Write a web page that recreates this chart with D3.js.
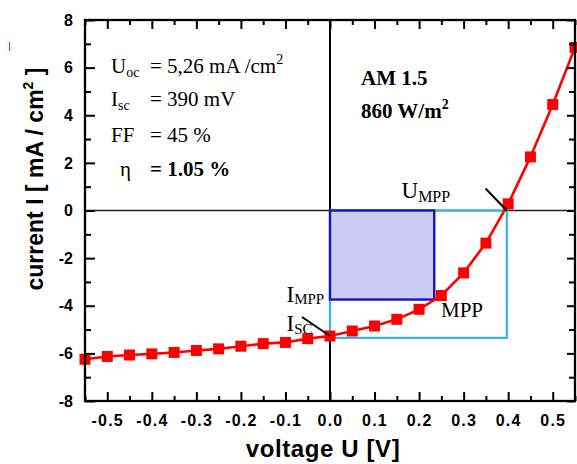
<!DOCTYPE html>
<html>
<head>
<meta charset="utf-8">
<script src="https://cdn.jsdelivr.net/npm/d3@7"></script>
<style>
  html, body { margin: 0; padding: 0; background: #fff; }
  svg { display: block; }
  .tick text { font-family: "Liberation Sans", Arial, sans-serif; font-weight: bold; font-size: 16px; fill: #000; }
  .serif { font-family: "Liberation Serif", "Times New Roman", serif; fill: #000; }
</style>
</head>
<body>
<svg id="chart" width="577" height="464"></svg>
<script>
// ---- data ----
const voltage = [-0.55, -0.5, -0.45, -0.4, -0.35, -0.3, -0.25, -0.2, -0.15, -0.1, -0.05,
                 0.0, 0.05, 0.1, 0.15, 0.2, 0.25, 0.3, 0.35, 0.4, 0.45, 0.5, 0.55];
const current = [-6.25, -6.13, -6.07, -6.02, -5.96, -5.88, -5.81, -5.70, -5.59, -5.54, -5.38,
                 -5.27, -5.06, -4.85, -4.57, -4.15, -3.57, -2.62, -1.37, 0.28, 2.25, 4.45, 6.85];
const xTicks = [-0.5, -0.4, -0.3, -0.2, -0.1, 0.0, 0.1, 0.2, 0.3, 0.4, 0.5];
const xMinor = [-0.55, -0.45, -0.35, -0.25, -0.15, -0.05, 0.05, 0.15, 0.25, 0.35, 0.45, 0.55];
const yTicks = [-8, -6, -4, -2, 0, 2, 4, 6, 8];
const yMinor = [-7, -5, -3, -1, 1, 3, 5, 7];
const xDomain = [-0.55, 0.55];
const yDomain = [-8, 8];
const mpp = { u: 0.234, i: -3.74 };       // maximum power point
const ocsc = { u: 0.397, i: -5.35 };      // open-circuit voltage / short-circuit current

// ---- layout ----
const svg = d3.select("#chart");
const L = 85, R = 575, T = 20, B = 401;
const x = d3.scaleLinear().domain(xDomain).range([L, R]);
const y = d3.scaleLinear().domain(yDomain).range([B, T]);

// stray red mark (top-left)
svg.append("line").attr("x1", 9.5).attr("x2", 9.5).attr("y1", 42).attr("y2", 51)
  .attr("stroke", "#ea3a46").attr("stroke-width", 1.2);

// zero lines
svg.append("line").attr("x1", L).attr("x2", R).attr("y1", y(0)).attr("y2", y(0))
  .attr("stroke", "#222").attr("stroke-width", 1.6);
svg.append("line").attr("x1", x(0)).attr("x2", x(0)).attr("y1", T).attr("y2", B)
  .attr("stroke", "#000").attr("stroke-width", 2);

// cyan rectangle (Isc x Uoc)
svg.append("rect")
  .attr("x", x(0)).attr("y", y(0))
  .attr("width", x(ocsc.u) - x(0)).attr("height", y(ocsc.i) - y(0))
  .attr("fill", "none").attr("stroke", "#35b6e6").attr("stroke-width", 2.2);

// blue rectangle (MPP)
svg.append("rect")
  .attr("x", x(0)).attr("y", y(0))
  .attr("width", x(mpp.u) - x(0)).attr("height", y(mpp.i) - y(0))
  .attr("fill", "#cbcbf3").attr("stroke", "#1515c8").attr("stroke-width", 2.4);

// data line + markers
const pts = voltage.map((v, i) => [v, current[i]]);
svg.append("path").datum(pts)
  .attr("d", d3.line().x(d => x(d[0])).y(d => y(d[1])))
  .attr("fill", "none").attr("stroke", "#ff0000").attr("stroke-width", 2.6);
const ms = 11;
svg.selectAll("rect.pt").data(pts).join("rect").attr("class", "pt")
  .attr("x", d => x(d[0]) - ms / 2).attr("y", d => y(d[1]) - ms / 2)
  .attr("width", ms).attr("height", ms).attr("fill", "#ff0000");

// ---- axes (inward ticks) ----
const fmtX = d => d.toFixed(1);
const fmtY = d => String(d);
function styleAxis(g) {
  g.select(".domain").remove();
  g.selectAll(".tick line").attr("stroke", "#000").attr("stroke-width", 2);
}
// bottom
svg.append("g").attr("transform", `translate(0,${B})`)
  .call(d3.axisBottom(x).tickValues(xTicks).tickSize(-9).tickPadding(14).tickFormat(fmtX))
  .call(styleAxis)
  .call(g => g.selectAll(".tick text").attr("letter-spacing", "1.2px").attr("y", 14));
svg.append("g").attr("transform", `translate(0,${B})`)
  .call(d3.axisBottom(x).tickValues(xMinor).tickSize(-5).tickFormat(""))
  .call(styleAxis);
// top
svg.append("g").attr("transform", `translate(0,${T})`)
  .call(d3.axisTop(x).tickValues(xTicks).tickSize(-9).tickFormat(""))
  .call(styleAxis);
svg.append("g").attr("transform", `translate(0,${T})`)
  .call(d3.axisTop(x).tickValues(xMinor).tickSize(-5).tickFormat(""))
  .call(styleAxis);
// left
svg.append("g").attr("transform", `translate(${L},0)`)
  .call(d3.axisLeft(y).tickValues(yTicks).tickSize(-10).tickPadding(12).tickFormat(fmtY))
  .call(styleAxis);
svg.append("g").attr("transform", `translate(${L},0)`)
  .call(d3.axisLeft(y).tickValues(yMinor).tickSize(-6).tickFormat(""))
  .call(styleAxis);
// right
svg.append("g").attr("transform", `translate(${R},0)`)
  .call(d3.axisRight(y).tickValues(yTicks).tickSize(-8).tickFormat(""))
  .call(styleAxis);
svg.append("g").attr("transform", `translate(${R},0)`)
  .call(d3.axisRight(y).tickValues(yMinor).tickSize(-6).tickFormat(""))
  .call(styleAxis);

// frame
svg.append("rect").attr("x", L).attr("y", T).attr("width", R - L).attr("height", B - T)
  .attr("fill", "none").attr("stroke", "#000").attr("stroke-width", 2.3);

// ---- axis titles ----
svg.append("text")
  .attr("x", 323).attr("y", 457).attr("text-anchor", "middle")
  .attr("font-family", "Liberation Sans, Arial, sans-serif").attr("font-weight", "bold")
  .attr("font-size", 24).attr("letter-spacing", "0.6px").text("voltage U [V]");

const yt = svg.append("text")
  .attr("transform", "translate(42.5,179) rotate(-90)")
  .attr("text-anchor", "middle")
  .attr("font-family", "Liberation Sans, Arial, sans-serif").attr("font-weight", "bold")
  .attr("font-size", 23);
yt.append("tspan").text("current I [ mA / cm");
yt.append("tspan").attr("font-size", 14).attr("dy", -10).text("2");
yt.append("tspan").attr("dy", 10).text(" ]");

// ---- annotation lines ----
svg.append("line").attr("x1", 485.5).attr("y1", 188.5).attr("x2", x(ocsc.u)).attr("y2", y(0))
  .attr("stroke", "#000").attr("stroke-width", 2);
svg.append("line").attr("x1", 302).attr("y1", 317).attr("x2", x(0)).attr("y2", y(current[11]))
  .attr("stroke", "#000").attr("stroke-width", 2);

// ---- text annotations ----
function sub(parent, main, s, px, py, fs, sfs, sdy) {
  const t = parent.append("text").attr("class", "serif").attr("x", px).attr("y", py).attr("font-size", fs);
  t.append("tspan").text(main);
  t.append("tspan").attr("font-size", sfs).attr("dy", sdy).text(s);
  return t;
}
// parameter box
sub(svg, "U", "oc", 111, 73, 21, 14, 4);
svg.append("text").attr("class", "serif").attr("x", 150).attr("y", 73).attr("font-size", 21)
  .call(t => { t.append("tspan").text("= 5,26 mA /cm"); t.append("tspan").attr("font-size", 14).attr("dy", -9).text("2"); });
sub(svg, "I", "sc", 111, 106, 21, 14, 4);
svg.append("text").attr("class", "serif").attr("x", 150).attr("y", 106).attr("font-size", 21).text("= 390 mV");
svg.append("text").attr("class", "serif").attr("x", 111).attr("y", 141.5).attr("font-size", 21).text("FF");
svg.append("text").attr("class", "serif").attr("x", 150).attr("y", 141.5).attr("font-size", 21).text("= 45 %");
svg.append("text").attr("class", "serif").attr("x", 120).attr("y", 175.5).attr("font-size", 21).text("η");
svg.append("text").attr("class", "serif").attr("x", 150).attr("y", 175.5).attr("font-size", 21)
  .attr("font-weight", "bold").text("= 1.05 %");

// conditions
svg.append("text").attr("class", "serif").attr("x", 361).attr("y", 85).attr("font-size", 21)
  .attr("font-weight", "bold").text("AM 1.5");
svg.append("text").attr("class", "serif").attr("x", 361).attr("y", 118).attr("font-size", 21)
  .attr("font-weight", "bold")
  .call(t => { t.append("tspan").text("860 W/m"); t.append("tspan").attr("font-size", 14).attr("dy", -9).text("2"); });

// point labels
sub(svg, "U", "MPP", 401.5, 198, 23, 16, 4);
sub(svg, "I", "MPP", 286.5, 301.5, 23, 15, 2.5);
sub(svg, "I", "SC", 286.5, 331, 23, 15, 2.5);
svg.append("text").attr("class", "serif").attr("x", 441).attr("y", 317).attr("font-size", 21).text("MPP");
</script>
</body>
</html>
